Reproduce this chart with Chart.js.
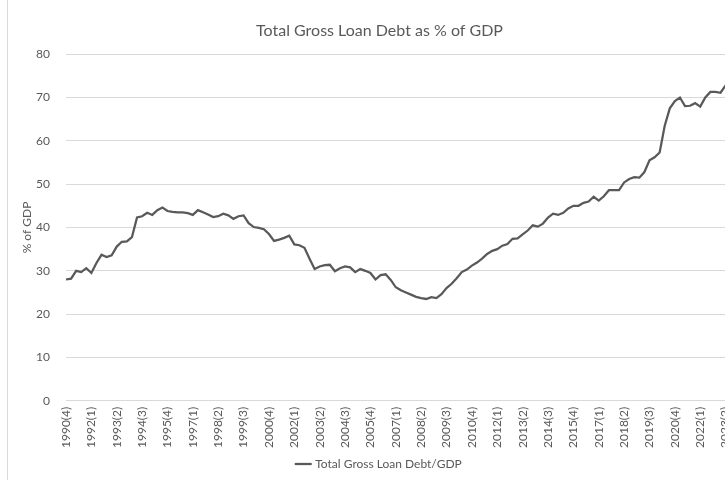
<!DOCTYPE html>
<html>
<head>
<meta charset="utf-8">
<script src="https://cdn.jsdelivr.net/npm/chart.js@4.4.1/dist/chart.umd.min.js"></script>
<style>
  body { margin: 0; background: #fff; }
  #wrap { position: absolute; left: 0; top: 0; width: 725px; height: 480px; overflow: hidden; }
  #line-canvas { position: absolute; left: 0; top: 0; }
  #edge { position: absolute; left: 7px; top: 0; width: 0; height: 480px; border-left: 1px solid #d9d9d9; }
</style>
</head>
<body>
<div id="wrap">
  <canvas id="line-canvas" width="746" height="480"></canvas>
  <div id="edge"></div>
</div>
<script>
// quarters 1990(4) .. 2023(2)
var startYear = 1990, startQ = 4, count = 131;
var quarters = [];
for (var i = 0; i < count; i++) {
  var q = startQ - 1 + i;
  quarters.push((startYear + Math.floor(q / 4)) + "(" + (q % 4 + 1) + ")");
}

// Total Gross Loan Debt / GDP, %
var debtGdp = [
  28.0, 28.2, 30.0, 29.7, 30.6, 29.5, 31.8, 33.7, 33.2, 33.6,
  35.6, 36.7, 36.8, 37.8, 42.3, 42.6, 43.4, 42.9, 44.0, 44.6,
  43.8, 43.6, 43.5, 43.5, 43.3, 42.9, 44.0, 43.5, 43.0, 42.4,
  42.6, 43.2, 42.8, 42.0, 42.6, 42.8, 41.0, 40.1, 39.9, 39.6,
  38.5, 36.9, 37.2, 37.6, 38.1, 36.1, 35.9, 35.3, 32.8, 30.4,
  31.0, 31.3, 31.4, 29.9, 30.6, 31.0, 30.8, 29.7, 30.4, 30.0,
  29.5, 28.0, 29.0, 29.2, 27.9, 26.2, 25.5, 25.0, 24.5, 24.0,
  23.7, 23.5, 23.9, 23.7, 24.6, 26.0, 27.0, 28.3, 29.7, 30.3,
  31.2, 31.9, 32.8, 33.9, 34.6, 35.0, 35.8, 36.2, 37.4, 37.5,
  38.4, 39.3, 40.5, 40.2, 40.9, 42.3, 43.2, 42.9, 43.4, 44.4,
  45.0, 45.0, 45.7, 46.0, 47.1, 46.2, 47.2, 48.6, 48.6, 48.6,
  50.4, 51.2, 51.6, 51.5, 52.8, 55.5, 56.2, 57.3, 63.5, 67.5,
  69.2, 70.0, 68.0, 68.1, 68.7, 67.9, 70.0, 71.3, 71.3, 71.1,
  72.8
];

var yTicks = [0, 10, 20, 30, 40, 50, 60, 70, 80];
var labelEvery = 5;

var grey = "#595959";
var font = "Lato, 'Open Sans', sans-serif";

var ctx = document.getElementById("line-canvas");

var chartData = {
  labels: quarters,
  datasets: [{
    label: "Total Gross Loan Debt/GDP",
    data: debtGdp,
    borderColor: "#595959",
    backgroundColor: "#595959",
    borderWidth: 2.25,
    fill: false,
    tension: 0,
    pointRadius: 0
  }]
};

var options = {
  responsive: false,
  animation: false,
  layout: { padding: { left: 16, right: 3, top: 8, bottom: 0 } },
  plugins: {
    title: {
      display: true,
      text: "Total Gross Loan Debt as % of GDP",
      color: grey,
      font: { family: font, size: 16, weight: "normal" },
      padding: { top: 13, bottom: 14 }
    },
    legend: {
      position: "bottom",
      labels: {
        color: grey,
        font: { family: font, size: 12 },
        usePointStyle: true,
        pointStyle: "line",
        boxWidth: 22,
        padding: 4
      }
    },
    tooltip: { enabled: false }
  },
  scales: {
    x: {
      offset: false,
      grid: { display: false, drawTicks: false },
      border: { color: "#d9d9d9" },
      ticks: {
        autoSkip: false,
        minRotation: 90,
        maxRotation: 90,
        color: grey,
        padding: 6,
        font: { family: font, size: 12 },
        callback: function(val, index) {
          return index % labelEvery === 0 ? quarters[index] : null;
        }
      }
    },
    y: {
      min: yTicks[0],
      max: yTicks[yTicks.length - 1],
      afterBuildTicks: function(axis) {
        axis.ticks = yTicks.map(function(v) { return { value: v }; });
      },
      afterFit: function(axis) {
        axis.width = 50;
      },
      grid: { color: "#d9d9d9", drawTicks: false },
      border: { display: false },
      ticks: {
        color: grey,
        padding: 16,
        font: { family: font, size: 12 }
      },
      title: {
        display: true,
        text: "% of GDP",
        color: grey,
        font: { family: font, size: 12 },
        padding: { top: 4, bottom: 0 }
      }
    }
  }
};

var chart = new Chart(ctx, {
  type: "line",
  data: chartData,
  options: options
});
</script>
</body>
</html>
